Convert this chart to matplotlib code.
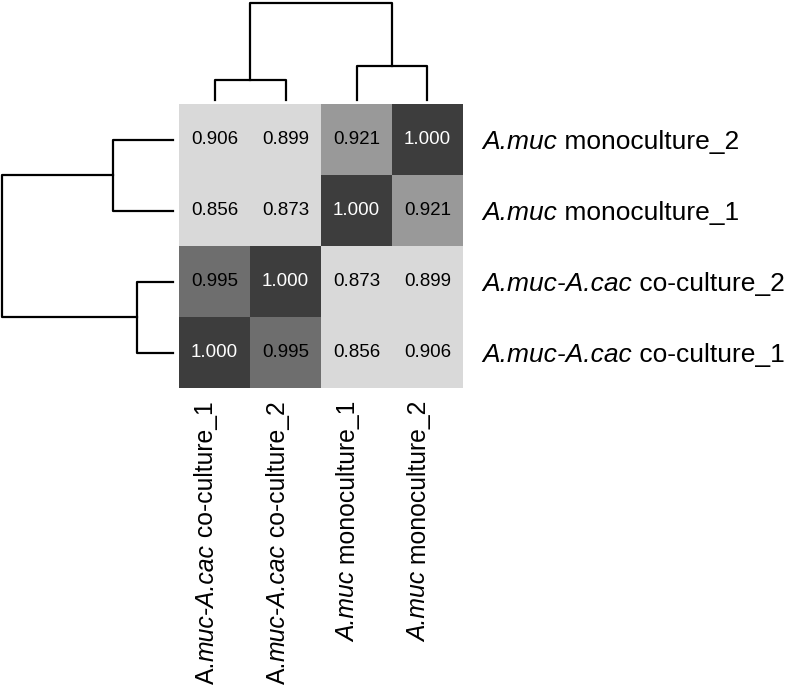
import matplotlib
matplotlib.use("Agg")
import matplotlib.pyplot as plt
import matplotlib.transforms as mtransforms
from matplotlib.colors import ListedColormap, BoundaryNorm
import numpy as np

plt.rcParams['font.family'] = ['Liberation Sans', 'DejaVu Sans']

# rows top -> bottom, columns left -> right
row_names = ["mono_2", "mono_1", "co_2", "co_1"]
col_names = ["co_1", "co_2", "mono_1", "mono_2"]
corr = np.array([
    [0.906, 0.899, 0.921, 1.000],
    [0.856, 0.873, 1.000, 0.921],
    [0.995, 1.000, 0.873, 0.899],
    [1.000, 0.995, 0.856, 0.906],
])

# dendrogram merge heights (relative)
h_co = 0.21
h_mono = 0.35
h_root = 1.0

gray_levels = ['#d9d9d9', '#999999', '#6e6e6e', '#3d3d3d']
bounds = [0.80, 0.91, 0.96, 0.999, 1.01]

row_labels = {
    "mono_2": [("A.muc", "italic"), (" monoculture_2", "normal")],
    "mono_1": [("A.muc", "italic"), (" monoculture_1", "normal")],
    "co_2": [("A.muc-A.cac", "italic"), (" co-culture_2", "normal")],
    "co_1": [("A.muc-A.cac", "italic"), (" co-culture_1", "normal")],
}
col_labels = {
    "co_1": [("A.", "normal"), ("muc-A.cac", "italic"), (" co-culture_1", "normal")],
    "co_2": [("A.", "normal"), ("muc-A.cac", "italic"), (" co-culture_2", "normal")],
    "mono_1": [("A.muc", "italic"), (" monoculture_1", "normal")],
    "mono_2": [("A.muc", "italic"), (" monoculture_2", "normal")],
}

W, H = 791, 690
fig = plt.figure(figsize=(W / 100, H / 100), dpi=100, facecolor='white')


def px_axes(x0, y0, x1, y1):
    # pixel box (top-left origin) -> figure axes
    return fig.add_axes([x0 / W, 1 - y1 / H, (x1 - x0) / W, (y1 - y0) / H])


hm_l, hm_t, hm_r, hm_b = 179, 104, 463, 388
ax = px_axes(hm_l, hm_t, hm_r, hm_b)
cmap = ListedColormap(gray_levels)
norm = BoundaryNorm(bounds, cmap.N)
ax.imshow(corr, cmap=cmap, norm=norm, aspect='auto', interpolation='nearest')
for i in range(corr.shape[0]):
    for j in range(corr.shape[1]):
        v = corr[i, j]
        ax.text(j, i, "%.3f" % v, ha='center', va='center', fontsize=13.5,
                color='white' if v > 0.999 else 'black')
ax.set_xticks([])
ax.set_yticks([])
for s in ax.spines.values():
    s.set_visible(False)

lw = 1.6
# top dendrogram
axt = px_axes(hm_l, 3, hm_r, 100)
axt.set_xlim(-0.5, 3.5)
axt.set_ylim(0, h_root)
axt.axis('off')
axt.plot([0, 0, 1, 1], [0, h_co, h_co, 0], color='black', lw=lw, clip_on=False)
axt.plot([2, 2, 3, 3], [0, h_mono, h_mono, 0], color='black', lw=lw, clip_on=False)
axt.plot([0.5, 0.5, 2.5, 2.5], [h_co, h_root, h_root, h_mono], color='black', lw=lw, clip_on=False)

# left dendrogram
axl = px_axes(2, hm_t, 173, hm_b)
axl.set_ylim(3.5, -0.5)
axl.set_xlim(h_root, 0)
axl.axis('off')
axl.plot([0, h_mono, h_mono, 0], [0, 0, 1, 1], color='black', lw=lw, clip_on=False)
axl.plot([0, h_co, h_co, 0], [2, 2, 3, 3], color='black', lw=lw, clip_on=False)
axl.plot([h_mono, h_root, h_root, h_co], [0.5, 0.5, 2.5, 2.5], color='black', lw=lw, clip_on=False)

renderer = fig.canvas.get_renderer()

# row labels on the right
for i, name in enumerate(row_names):
    y = ax.transData.transform((0, i))[1]
    tr = mtransforms.IdentityTransform()
    x = hm_r + 19
    for s, st in row_labels[name]:
        t = fig.text(x, y, s, transform=tr, style=st, fontsize=19,
                     ha='left', va='center_baseline')
        t.draw(renderer)
        ex = t.get_window_extent(renderer)
        tr = mtransforms.offset_copy(tr, x=ex.width, units='dots')

# column labels below, rotated, top-aligned
for j, name in enumerate(col_names):
    xd = ax.transData.transform((j, 0))[0] - 1
    yd = H - (hm_b + 13)
    tr = mtransforms.IdentityTransform()
    for s, st in reversed(col_labels[name]):
        t = fig.text(xd, yd, s, transform=tr, style=st, fontsize=17.8, rotation=90,
                     rotation_mode='anchor', ha='right', va='baseline')
        t.draw(renderer)
        ex = t.get_window_extent(renderer)
        tr = mtransforms.offset_copy(tr, y=-ex.height, units='dots')

fig.savefig("out.png", dpi=100, facecolor='white')
